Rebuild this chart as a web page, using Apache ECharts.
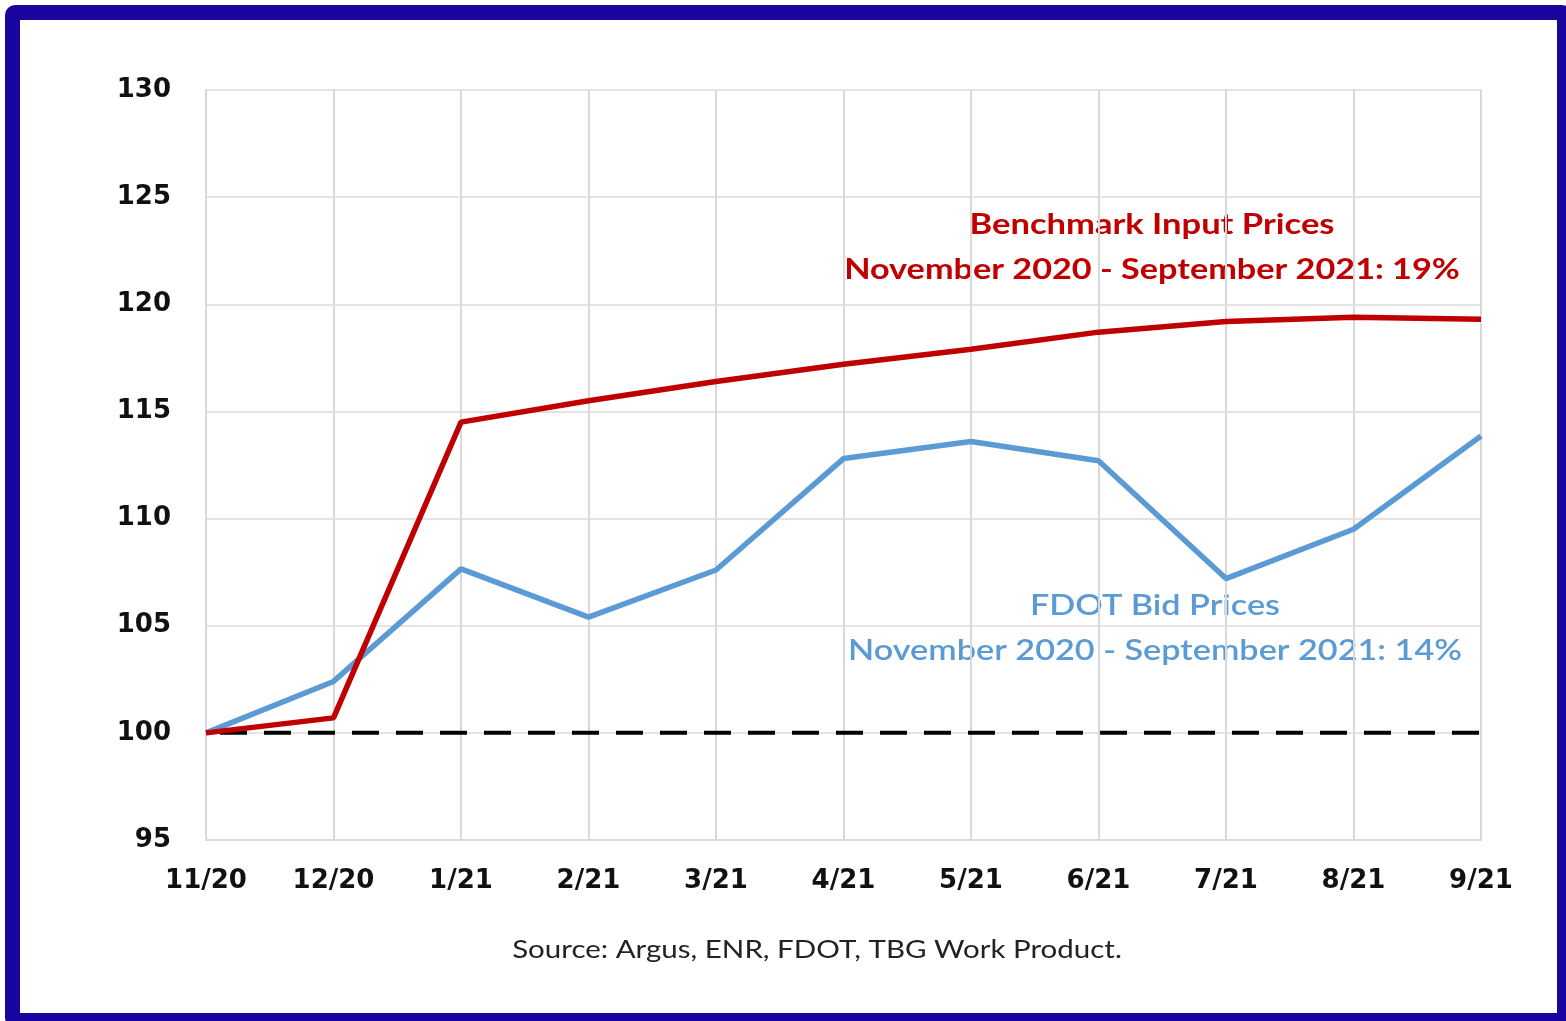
<!DOCTYPE html>
<html><head><meta charset="utf-8">
<script src="https://cdn.jsdelivr.net/npm/echarts@6/dist/echarts.min.js"></script>
<style>
html,body{margin:0;padding:0;background:#fff;width:1566px;height:1021px;overflow:hidden;}
#frame{position:absolute;left:5px;top:5px;width:1537px;height:993px;border:15px solid #1a069e;border-radius:10px;}
#chart{position:absolute;left:0;top:0;width:1566px;height:1021px;}
</style></head>
<body>
<div id="frame"></div>
<div id="chart"></div>
<script>
const categories = ['11/20','12/20','1/21','2/21','3/21','4/21','5/21','6/21','7/21','8/21','9/21'];
const benchmarkInput = [100, 100.7, 114.5, 115.5, 116.4, 117.2, 117.9, 118.7, 119.2, 119.4, 119.3];
const fdotBid = [100, 102.4, 107.65, 105.4, 107.6, 112.8, 113.6, 112.7, 107.2, 109.5, 113.85];
const baseline = [100, 100, 100, 100, 100, 100, 100, 100, 100, 100, 100];
const yTicks = {min: 95, max: 130, interval: 5};

const font = 'Lato, Carlito, "Open Sans", sans-serif';
const axisFont = '"DejaVu Sans", sans-serif';
const chart = echarts.init(document.getElementById('chart'));
chart.setOption({
  backgroundColor: 'transparent',
  animation: false,
  grid: {left: 206, right: 85, top: 90, bottom: 181, containLabel: false},
  xAxis: {
    type: 'category', data: categories, boundaryGap: false,
    axisLine: {show: true, lineStyle: {color: '#d9d9d9', width: 2}},
    axisTick: {show: false},
    splitLine: {show: true, lineStyle: {color: '#d9d9d9', width: 2}},
    axisLabel: {color: '#111', fontSize: 26, fontWeight: 'bold', fontFamily: axisFont, margin: 28}
  },
  yAxis: {
    type: 'value', min: yTicks.min, max: yTicks.max, interval: yTicks.interval,
    axisLine: {show: true, lineStyle: {color: '#d9d9d9', width: 2}},
    axisTick: {show: false},
    splitLine: {show: true, lineStyle: {color: '#e3e3e3', width: 2}},
    axisLabel: {color: '#111', fontSize: 26, fontWeight: 'bold', fontFamily: axisFont, margin: 35}
  },
  series: [
    {name: 'Baseline', type: 'line', data: baseline, symbol: 'none', z: 1,
     lineStyle: {color: '#000', width: 4, type: [27, 17], dashOffset: -14}},
    {name: 'FDOT Bid Prices', type: 'line', data: fdotBid, symbol: 'none', z: 2,
     lineStyle: {color: '#5b9bd5', width: 5.5}},
    {name: 'Benchmark Input Prices', type: 'line', data: benchmarkInput, symbol: 'none', z: 3,
     lineStyle: {color: '#c00000', width: 5.5}}
  ],
  graphic: [
    {type: 'text', x: 1152, y: 225, scaleX: 1.19, style: {text: 'Benchmark Input Prices', fill: '#c00000', font: 'bold 29px ' + font, textAlign: 'center', textVerticalAlign: 'middle'}},
    {type: 'text', x: 1152, y: 270, scaleX: 1.18, style: {text: 'November 2020 - September 2021: 19%', fill: '#c00000', font: 'bold 29px ' + font, textAlign: 'center', textVerticalAlign: 'middle'}},
    {type: 'text', x: 1155, y: 606, scaleX: 1.18, style: {text: 'FDOT Bid Prices', fill: '#5b9bd5', font: '600 29px ' + font, textAlign: 'center', textVerticalAlign: 'middle'}},
    {type: 'text', x: 1155, y: 651, scaleX: 1.18, style: {text: 'November 2020 - September 2021: 14%', fill: '#5b9bd5', font: '600 29px ' + font, textAlign: 'center', textVerticalAlign: 'middle'}},
    {type: 'text', x: 817, y: 950, scaleX: 1.18, style: {text: 'Source: Argus, ENR, FDOT, TBG Work Product.', fill: '#222', font: '25px ' + font, textAlign: 'center', textVerticalAlign: 'middle'}}
  ]
});
</script>
</body></html>
